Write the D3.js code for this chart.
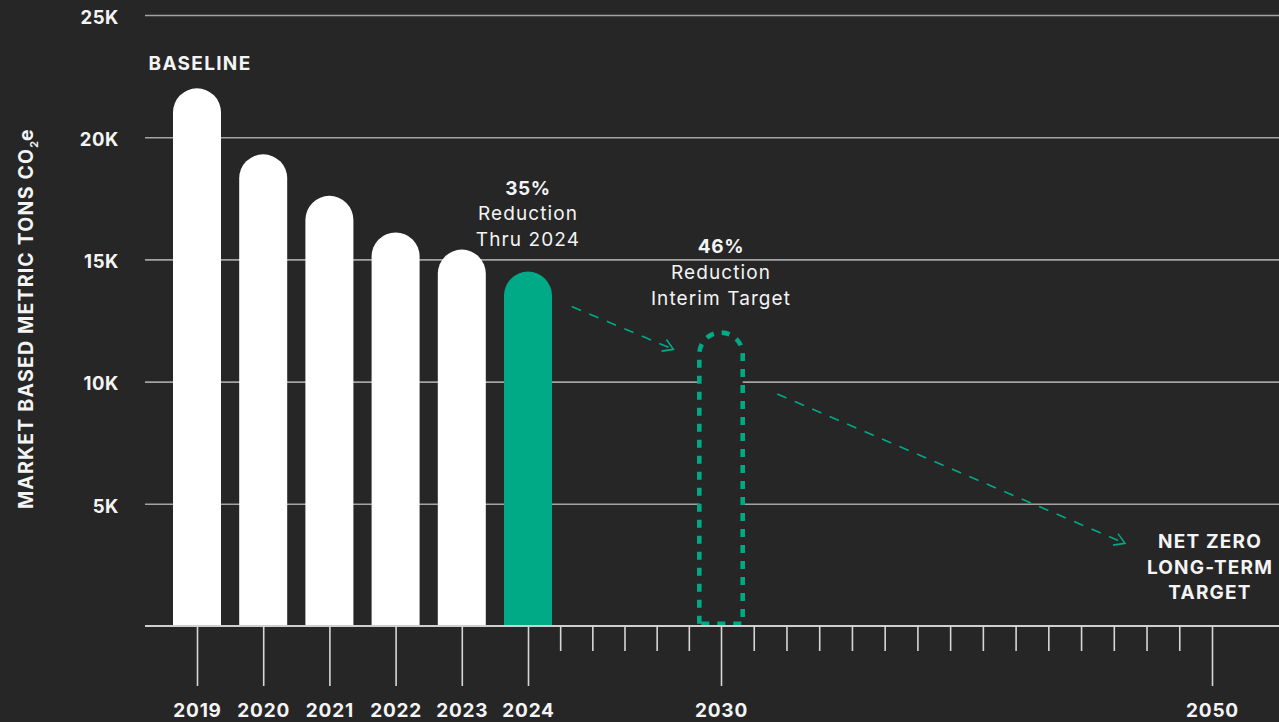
<!DOCTYPE html>
<html>
<head>
<meta charset="utf-8">
<script src="https://cdn.jsdelivr.net/npm/d3@7"></script>
<style>
  html, body { margin: 0; padding: 0; background: #262626; }
  svg { display: block; }
  text { font-family: Inter, "Noto Sans", sans-serif; fill: #f4f4f4; }
</style>
</head>
<body>
<svg id="chart" width="1279" height="722"></svg>
<script>
// Market-based emissions, thousand metric tons CO2e
const years = ["2019", "2020", "2021", "2022", "2023", "2024"];
const emissions = [22.0, 19.3, 17.6, 16.1, 15.4, 14.5];
const interimYear = "2030";
const interimTarget = 12.1;
const netZeroYear = "2050";

// Timeline slots: annual bars every two slots, then the projection ruler
const barSlots = [0, 2, 4, 6, 8, 10];
const interimSlot = 16;
const netZeroSlot = 31;
const minorSlots = [11, 12, 13, 14, 15, 17, 18, 19, 20, 21, 22, 23, 24, 25, 26, 27, 28, 29, 30];

const yTickValues = [0, 5, 10, 15, 20, 25];
const yTickLabels = ["", "5K", "10K", "15K", "20K", "25K"];

const reductionNotes = [
  { slot: 10, value: 14.5, lines: ["35%", "Reduction", "Thru 2024"] },
  { slot: 16, value: 12.1, lines: ["46%", "Reduction", "Interim Target"] }
];
const netZeroLines = ["NET ZERO", "LONG-TERM", "TARGET"];

// Trend arrows, as [slot, value] pairs
const arrows = [
  [[11.36, 13.07], [14.52, 11.32]],
  [[17.72, 9.49], [28.34, 3.38]]
];

const W = 1279, H = 722;
const green = "#00aa86";
const svg = d3.select("#chart");

const x = d3.scaleLinear().domain([0, 10, 16, 31]).range([197, 528, 721, 1212]);
const y = d3.scaleLinear().domain([0, 25]).range([626, 15]);
const barW = 48;
const gridLeft = 145;

// Grid + y labels
const yAxis = d3.axisLeft(y)
  .tickValues(yTickValues)
  .tickFormat((d, i) => yTickLabels[i])
  .tickSize(-(W - gridLeft))
  .tickPadding(26);
const gy = svg.append("g").attr("transform", `translate(${gridLeft},0)`).call(yAxis);
gy.select(".domain").remove();
gy.selectAll(".tick line").attr("stroke", "#a3a3a3").attr("stroke-width", 1.6)
  .filter(d => d === 0).remove();
gy.selectAll(".tick text")
  .attr("fill", "#f4f4f4").attr("font-size", 18.5).attr("font-weight", 700)
  .attr("letter-spacing", 0.6)
  .attr("font-family", "Inter, sans-serif")
  .attr("dy", 8.3);

// Y axis title
const yTitle = svg.append("text")
  .attr("transform", `translate(33,${y(12.55)}) rotate(-90)`)
  .attr("text-anchor", "middle")
  .attr("font-size", 19.5).attr("font-weight", 700).attr("letter-spacing", 1.2);
yTitle.append("tspan").text("MARKET BASED METRIC TONS CO");
yTitle.append("tspan").text("2").attr("font-size", 10.5).attr("dy", 5).attr("letter-spacing", 0);
yTitle.append("tspan").text("e").attr("dy", -5).attr("letter-spacing", 0);

// Pill-topped bar path (top of the round cap sits at the value)
function pill(cx, v, w, inset) {
  const x0 = cx - w / 2 + inset, x1 = cx + w / 2 - inset;
  const r = (x1 - x0) / 2;
  const top = y(v) + inset, bottom = y(0) - inset;
  return `M${x0},${bottom}L${x0},${top + r}A${r},${r} 0 0 1 ${x1},${top + r}L${x1},${bottom}Z`;
}

svg.append("g").selectAll("path")
  .data(emissions)
  .join("path")
  .attr("d", (d, i) => pill(x(barSlots[i]), d, barW, 0))
  .attr("fill", (d, i) => i === emissions.length - 1 ? green : "#ffffff");

// Interim target outline
svg.append("path")
  .attr("d", pill(x(interimSlot), interimTarget, barW, 2.3))
  .attr("fill", "#262626")
  .attr("stroke", green).attr("stroke-width", 4.6)
  .attr("stroke-dasharray", "8,8");

// Baseline
svg.append("line")
  .attr("x1", gridLeft).attr("x2", W)
  .attr("y1", y(0)).attr("y2", y(0))
  .attr("stroke", "#cfcfcf").attr("stroke-width", 1.8);

// Timeline ticks
const majorSlots = barSlots.concat([interimSlot, netZeroSlot]);
const majorLabels = years.concat([interimYear, netZeroYear]);
const gxMajor = svg.append("g").attr("transform", `translate(0,${y(0)})`)
  .call(d3.axisBottom(x).tickValues(majorSlots).tickSize(60)
    .tickFormat((d, i) => majorLabels[i]));
gxMajor.select(".domain").remove();
gxMajor.selectAll(".tick line").attr("stroke", "#d6d6d6").attr("stroke-width", 1.6);
gxMajor.selectAll(".tick text")
  .attr("fill", "#f4f4f4").attr("font-size", 19).attr("font-weight", 700)
  .attr("letter-spacing", 0.8)
  .attr("font-family", "Inter, sans-serif")
  .attr("y", 90.5).attr("dy", 0);

const gxMinor = svg.append("g").attr("transform", `translate(0,${y(0)})`)
  .call(d3.axisBottom(x).tickValues(minorSlots).tickSize(25).tickFormat(""));
gxMinor.select(".domain").remove();
gxMinor.selectAll(".tick line").attr("stroke", "#d6d6d6").attr("stroke-width", 1.6);

// Baseline label
svg.append("text")
  .attr("x", x(barSlots[0]) + 3).attr("y", y(emissions[0]) - 18)
  .attr("text-anchor", "middle")
  .attr("font-size", 19).attr("font-weight", 700).attr("letter-spacing", 1.3)
  .text("BASELINE");

// Reduction notes above the 2024 bar and the 2030 target
reductionNotes.forEach(n => {
  const t = svg.append("text")
    .attr("text-anchor", "middle")
    .attr("font-size", 19);
  n.lines.forEach((line, i) => {
    t.append("tspan")
      .attr("x", x(n.slot))
      .attr("y", y(n.value) - 77 + i * 25.8)
      .attr("font-weight", i === 0 ? 700 : 400)
      .attr("letter-spacing", i === 0 ? 0.6 : 1.1)
      .text(line);
  });
});

// Net zero label
const nz = svg.append("text").attr("text-anchor", "middle")
  .attr("font-size", 19).attr("font-weight", 700).attr("letter-spacing", 1.2);
netZeroLines.forEach((line, i) => {
  nz.append("tspan")
    .attr("x", x(netZeroSlot) - 2)
    .attr("y", y(0) - 27 - (netZeroLines.length - 1 - i) * 25.5)
    .text(line);
});

// Dashed trend arrows with open chevron heads
const arrowG = svg.append("g")
  .attr("stroke", green).attr("stroke-width", 1.6).attr("fill", "none");
arrows.forEach(([a, b]) => {
  const x1 = x(a[0]), y1 = y(a[1]), x2 = x(b[0]), y2 = y(b[1]);
  arrowG.append("line")
    .attr("x1", x1).attr("y1", y1).attr("x2", x2).attr("y2", y2)
    .attr("stroke-dasharray", "10,9");
  const ang = Math.atan2(y2 - y1, x2 - x1);
  const L = 12, spread = 0.55;
  const p1 = [x2 - L * Math.cos(ang - spread), y2 - L * Math.sin(ang - spread)];
  const p2 = [x2 - L * Math.cos(ang + spread), y2 - L * Math.sin(ang + spread)];
  arrowG.append("path")
    .attr("d", `M${p1[0]},${p1[1]}L${x2},${y2}L${p2[0]},${p2[1]}`);
});
</script>
</body>
</html>
